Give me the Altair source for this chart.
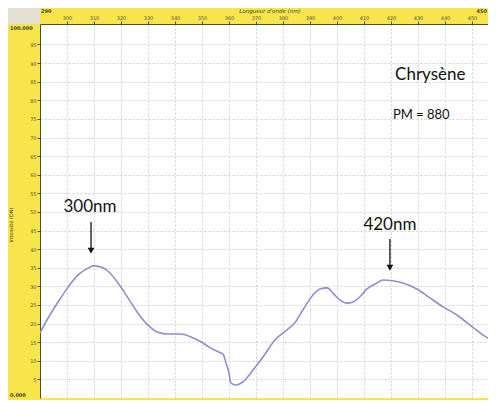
import altair as alt
import pandas as pd

# Spectrum
wavelength = [290, 293.0, 296.7, 300.4, 304.1, 307.8, 309.6, 312.6, 315.9, 318.9,
              322.6, 326.3, 330.0, 333.7, 337.4, 342.2, 345.9, 349.6, 353.3, 357.0,
              357.8, 358.9, 360.0, 360.7, 362.6, 365.9, 368.9, 372.6, 377.0, 381.5,
              384.4, 387.4, 391.1, 393.7, 396.3, 398.5, 401.1, 403.7, 405.9, 408.5,
              411.1, 414.8, 417.0, 420.7, 424.4, 429.6, 434.4, 439.3, 444.4, 449.3,
              454.1, 457.4, 458.9]
intensity = [17.5, 21.5, 25.8, 29.8, 33.1, 34.9, 35.5, 35.2, 33.6, 30.9,
             26.9, 22.8, 19.6, 17.7, 17.2, 17.2, 16.4, 15.1, 13.4, 12.1,
             11.8, 9.4, 6.7, 4.0, 3.5, 4.8, 7.5, 11.0, 15.6, 18.3,
             20.2, 23.7, 27.7, 29.3, 29.6, 28.2, 26.3, 25.5, 25.8, 27.2,
             29.3, 30.9, 31.7, 31.5, 30.9, 29.3, 26.9, 24.5, 22.3, 19.6,
             16.9, 15.1, 12.4]

x_ticks = list(range(300, 451, 10))
y_ticks = list(range(5, 100, 5))

peak_labels = ["300nm", "420nm"]
peak_label_x = [308.5, 419.6]
peak_label_y = [51.3, 46.5]
arrow_x = [308.9, 419.6]
arrow_top = [47.3, 42.7]
arrow_bottom = [39.6, 35.0]

info_text = ["Chrysène", "PM = 880"]
info_x = [421.5, 420.7]
info_y = [86.8, 76.1]
info_size = [17, 13]

df = pd.DataFrame({"nm": wavelength, "val": intensity})
df_lab = pd.DataFrame({"nm": peak_label_x, "val": peak_label_y, "t": peak_labels})
df_arr = pd.DataFrame({"nm": arrow_x, "val": arrow_top, "bot": arrow_bottom})
df_arr2 = pd.DataFrame({"nm": arrow_x, "val": arrow_bottom})
df_info = pd.DataFrame({"nm": info_x, "val": info_y, "t": info_text, "s": info_size})
one = pd.DataFrame({"a": [0]})

xscale = alt.Scale(domain=[290, 455.93], nice=False, zero=False)
yscale = alt.Scale(domain=[0, 100.5], nice=False, zero=True)

xaxis = alt.Axis(orient="top", values=x_ticks, title=None, labelFontSize=5,
                 labelColor="#555544", tickSize=3, tickColor="#555544",
                 domainColor="#4d4d33", domainWidth=1, grid=True,
                 gridColor="#d0d0d0", gridDash=[2, 2], labelPadding=1,
                 labelFont="DejaVu Sans")
yaxis = alt.Axis(orient="left", values=y_ticks, title=None, labelFontSize=5,
                 labelColor="#555544", tickSize=3, tickColor="#555544",
                 domainColor="#4d4d33", domainWidth=1, grid=True,
                 gridColor="#d0d0d0", gridDash=[2, 2], labelPadding=1,
                 labelFont="DejaVu Sans")

X = alt.X("nm:Q", scale=xscale, axis=xaxis)
Y = alt.Y("val:Q", scale=yscale, axis=yaxis)

line = alt.Chart(df).mark_line(color="#8c8fd2", strokeWidth=1.6, clip=True,
                               interpolate="monotone").encode(x=X, y=Y)

labels = alt.Chart(df_lab).mark_text(font="Lato", fontSize=17, color="#111111",
                                      baseline="middle", align="center").encode(
    x=X, y=Y, text="t:N",
)

arrows = alt.Chart(df_arr).mark_rule(color="#111111", strokeWidth=1.3).encode(
    x=X, y=Y, y2="bot:Q",
)
heads = alt.Chart(df_arr2).mark_point(shape="triangle-down", filled=True,
                                      color="#111111", size=45, opacity=1).encode(
    x=X, y=Y,
)

info = alt.Chart(df_info).mark_text(font="Lato", color="#111111", align="left",
                                    baseline="middle").encode(
    x=X, y=Y, text="t:N",
    size=alt.Size("s:Q", scale=None, legend=None),
)

corner = alt.Chart(one).mark_rect(color="#e4e1d4", clip=False).encode(
    x=alt.value(-32), x2=alt.value(0), y=alt.value(-16), y2=alt.value(0)
)

def small_text(txt, xv, yv, align="left", bold=False, italic=False, size=5, angle=0):
    kw = dict(text=txt, fontSize=size, color="#3d3d22", align=align,
              baseline="middle", font="DejaVu Sans", clip=False)
    if bold:
        kw["fontWeight"] = "bold"
    if italic:
        kw["fontStyle"] = "italic"
    if angle:
        kw["angle"] = angle
    return alt.Chart(one).mark_text(**kw).encode(x=alt.value(xv), y=alt.value(yv))

t_xmin = small_text("290", 1, -13, bold=True)
t_xmax = small_text("450", 447, -13, align="right", bold=True)
t_ymax = small_text("100.000", -30, 4, bold=True)
t_ymin = small_text("0.000", -30, 371, bold=True)
t_xtitle = small_text("Longueur d'onde (nm)", 230, -13, align="center", italic=True, size=5.5)
t_ytitle = small_text("Intensité (DN)", -29, 201, align="center", size=5, angle=270)

chart = alt.layer(
    line, labels, arrows, heads, info, corner,
    t_xmin, t_xmax, t_ymax, t_ymin, t_xtitle, t_ytitle,
).properties(
    width=448, height=374,
    padding={"left": 32, "top": 16, "right": 0, "bottom": 2},
    autosize=alt.AutoSizeParams(type="none"),
).configure(
    background="#f8e54b",
).configure_view(
    fill="white", strokeWidth=0,
)

chart.save("out.html", embed_options={"renderer": "svg", "actions": False})
